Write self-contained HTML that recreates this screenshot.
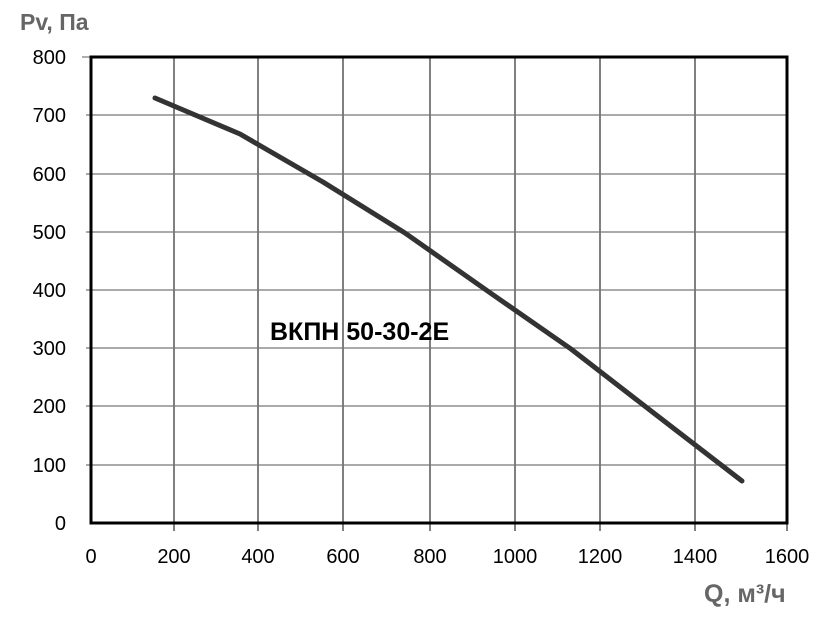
<!DOCTYPE html><html><head><meta charset="utf-8"><style>body{margin:0;background:#fff}</style></head><body>
<svg width="827" height="613" xmlns="http://www.w3.org/2000/svg" font-family="Liberation Sans, sans-serif">
<g stroke="#000" stroke-width="1">
<line x1="174" y1="57" x2="174" y2="531"/><line x1="258" y1="57" x2="258" y2="531"/><line x1="343" y1="57" x2="343" y2="531"/><line x1="430" y1="57" x2="430" y2="531"/><line x1="515" y1="57" x2="515" y2="531"/><line x1="600" y1="57" x2="600" y2="531"/><line x1="695" y1="57" x2="695" y2="531"/><line x1="787" y1="523" x2="787" y2="531"/>
</g>
<g stroke="#777" stroke-width="1.2">
<line x1="86" y1="115" x2="787" y2="115"/><line x1="86" y1="174" x2="787" y2="174"/><line x1="86" y1="232" x2="787" y2="232"/><line x1="86" y1="290" x2="787" y2="290"/><line x1="86" y1="348" x2="787" y2="348"/><line x1="86" y1="406" x2="787" y2="406"/><line x1="86" y1="465" x2="787" y2="465"/><line x1="82" y1="57" x2="91" y2="57"/>
</g>
<rect x="91" y="57" width="696" height="466" fill="none" stroke="#000" stroke-width="3"/>
<polyline points="155,98 240,134 323,182 405,233 489,292 571,349 655,414 742,481" fill="none" stroke="#333" stroke-width="5" stroke-linecap="round" stroke-linejoin="round"/>
<g font-size="20" fill="#000" text-anchor="end">
<text x="66" y="64">800</text><text x="66" y="122">700</text><text x="66" y="181">600</text><text x="66" y="239">500</text><text x="66" y="297">400</text><text x="66" y="355">300</text><text x="66" y="413">200</text><text x="66" y="472">100</text><text x="66" y="530">0</text>
</g>
<g font-size="20" fill="#000" text-anchor="middle">
<text x="91" y="563">0</text><text x="174" y="563">200</text><text x="258" y="563">400</text><text x="343" y="563">600</text><text x="430" y="563">800</text><text x="515" y="563">1000</text><text x="600" y="563">1200</text><text x="695" y="563">1400</text><text x="787" y="563">1600</text>
</g>
<text x="20" y="30" font-size="23" font-weight="bold" fill="#666">Pv, Па</text>
<text x="704" y="602" font-size="25" font-weight="bold" fill="#666">Q, м³/ч</text>
<text x="270" y="340" font-size="25" font-weight="bold" fill="#000">ВКПН 50-30-2Е</text>
</svg>
</body></html>
